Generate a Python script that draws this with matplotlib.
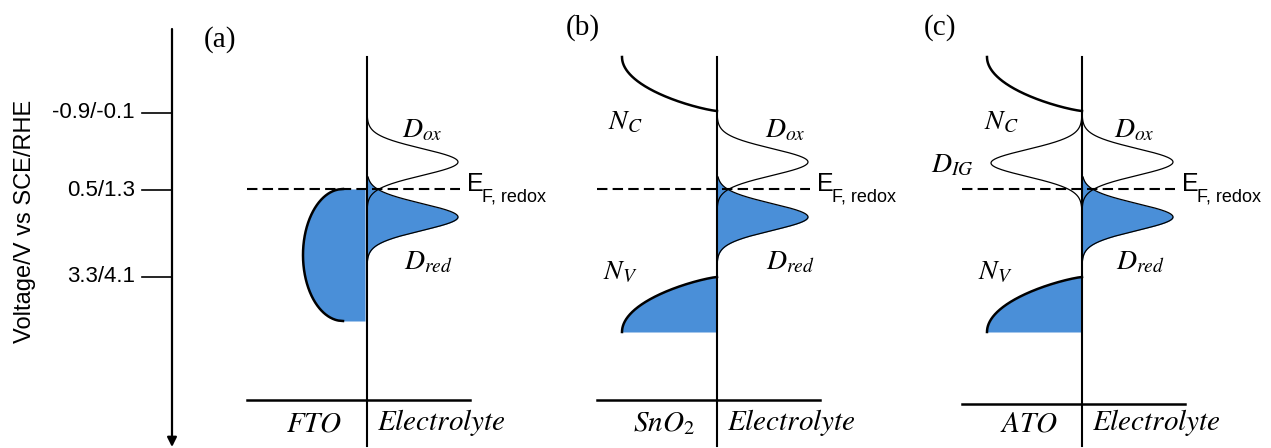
import numpy as np
import matplotlib.pyplot as plt

plt.rcParams['mathtext.fontset'] = 'stix'

# energy axis (drawing units, pixels from the top; down = more positive potential)
tick_labels = ['-0.9/-0.1', '0.5/1.3', '3.3/4.1']
tick_pos = [113, 190, 277]

panel_labels = ['(a)', '(b)', '(c)']
materials = ['$FTO$', '$SnO_2$', '$ATO$']
interface_x = [367, 717, 1082]
baseline_y = [400, 400, 404]

# levels and DOS shapes
fermi_y = 189
ox_center = 162
red_center = 217
ig_center = 163
dos_height = 91
dos_width = 19
cb_edge = 111
vb_edge = 277
vb_bottom = 332
band_top = 57
band_depth = 95
band_power = 0.8
fto_top, fto_bottom = 189, 321
fto_flat, fto_bulge = 22, 40

blue = '#4a8fd8'
sans = 'Liberation Sans'

fig = plt.figure(figsize=(12.71, 4.48), dpi=100)
ax = fig.add_axes([0, 0, 1, 1])
ax.set_xlim(0, 1271)
ax.set_ylim(448, 0)
ax.axis('off')


def dos(y, c):
    return dos_height * np.exp(-((y - c) / dos_width) ** 2)


def band(t):
    # t = 0 deep in the band, t = 1 at the band edge
    return band_depth * np.clip(1 - t ** 2, 0, 1) ** band_power


# left voltage axis
ax.annotate('', xy=(172, 447), xytext=(172, 29),
            arrowprops=dict(arrowstyle='-|>', lw=1.6, color='black',
                            mutation_scale=14, shrinkA=0, shrinkB=0))
for lab, yp in zip(tick_labels, tick_pos):
    ax.plot([142, 172], [yp, yp], color='black', lw=1.2)
    ax.text(135, yp, lab, ha='right', va='center', fontsize=16, family=sans)
ax.text(25, 221, 'Voltage/V vs SCE/RHE', rotation=90, ha='center', va='center',
        fontsize=17, family=sans)

# layout tweaks for the labels of each panel
panel_pos = [(220, 40), (583, 28), (940, 28)]
ox_dx = [55, 68, 52]
red_dx = [61, 73, 58]
nc_dx = [0, -92, -81]
nv_dx = [0, -97, -87]

for i, x0 in enumerate(interface_x):
    # interface, baseline, Fermi level
    ax.plot([x0, x0], [band_top, 446], color='black', lw=1.5)
    ax.plot([x0 - 120, x0 + 103], [baseline_y[i]] * 2, color='black', lw=1.8)
    ax.plot([x0 - 120, x0 + 93], [fermi_y, fermi_y], color='black', lw=1.5,
            ls=(0, (5, 2.5)))
    ax.text(x0 + 100, fermi_y - 5, 'E', ha='left', va='center', fontsize=18, family=sans)
    ax.text(x0 + 115, fermi_y + 8, 'F, redox', ha='left', va='center', fontsize=13, family=sans)

    ax.text(*panel_pos[i], panel_labels[i], ha='center', va='center', fontsize=21,
            family='Liberation Serif')
    ax.text(x0 - 53, 423, materials[i], ha='center', va='center', fontsize=21)
    ax.text(x0 + 10, 423, '$Electrolyte$', ha='left', va='center', fontsize=21)

    # redox DOS in the electrolyte
    y = np.linspace(ox_center - 52, ox_center + 52, 300)
    ax.plot(x0 + dos(y, ox_center), y, color='black', lw=0.9)
    y = np.linspace(red_center - 40, red_center + 56, 300)
    ax.fill_betweenx(y, x0, x0 + dos(y, red_center), color=blue, lw=0)
    ax.plot(x0 + dos(y, red_center), y, color='black', lw=0.9)
    ax.text(x0 + ox_dx[i], 129, '$D_{ox}$', ha='center', va='center', fontsize=20)
    ax.text(x0 + red_dx[i], 261, '$D_{red}$', ha='center', va='center', fontsize=20)

    if i == 0:
        # metallic FTO, filled up to the Fermi level
        y = np.linspace(fto_top, fto_bottom, 300)
        yc = (fto_top + fto_bottom) / 2
        h = (fto_bottom - fto_top) / 2
        xl = x0 - 2 - fto_flat - fto_bulge * np.sqrt(np.clip(1 - ((y - yc) / h) ** 2, 0, 1))
        ax.fill_betweenx(y, xl, x0 - 2, color=blue, lw=0)
        ax.plot(xl, y, color='black', lw=1.8)
        continue

    # semiconductor bands
    y = np.linspace(band_top, cb_edge, 300)
    ax.plot(x0 - band((y - band_top) / (cb_edge - band_top)), y, color='black', lw=1.8)
    y = np.linspace(vb_edge, vb_bottom, 300)
    xv = x0 - band((vb_bottom - y) / (vb_bottom - vb_edge))
    ax.fill_betweenx(y, xv, x0, color=blue, lw=0)
    ax.plot(xv, y, color='black', lw=1.8)
    ax.text(x0 + nc_dx[i], 121, '$N_C$', ha='center', va='center', fontsize=20)
    ax.text(x0 + nv_dx[i], 271, '$N_V$', ha='center', va='center', fontsize=20)

    if i == 2:
        # in-gap states of ATO
        y = np.linspace(ig_center - 52, ig_center + 57, 300)
        ax.plot(x0 - dos(y, ig_center), y, color='black', lw=0.9)
        ax.text(952, 164, '$D_{IG}$', ha='center', va='center', fontsize=20)

fig.savefig('out.png', dpi=100)
